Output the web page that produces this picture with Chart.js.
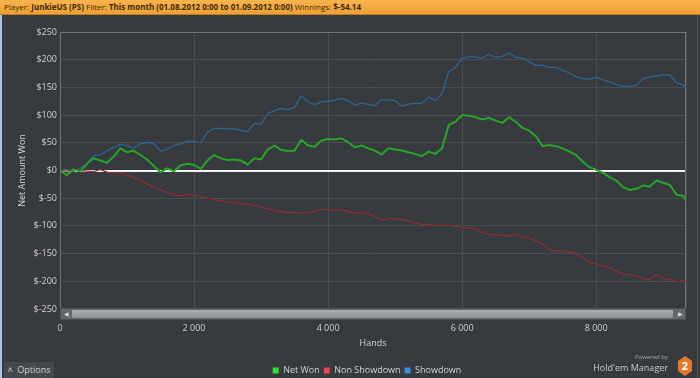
<!DOCTYPE html>
<html>
<head>
<meta charset="utf-8">
<script src="https://cdn.jsdelivr.net/npm/chart.js@4/dist/chart.umd.min.js"></script>
<style>
  html, body { margin: 0; padding: 0; background: #373a3e; }
  #wrap { position: relative; width: 700px; height: 378px; overflow: hidden; background: #373a3e; font-family: "Open Sans", sans-serif; }
  #chart { position: absolute; left: 0; top: 0; }
  #header { position: absolute; left: 0; top: 0; width: 700px; height: 14px; background: linear-gradient(#f8b44e, #eea033); border-bottom: 1px solid #b97a22; font-size: 8px; line-height: 14px; color: #3b2a10; white-space: nowrap; }
  #header span { margin-left: 4px; }
  #header b { font-weight: 700; }
  #leftedge { position: absolute; left: 0; top: 15px; width: 2px; height: 363px; background: #a8c4e2; }
  #rightedge { position: absolute; left: 697px; top: 15px; width: 1px; height: 363px; background: #55585c; }
  #scroll { position: absolute; left: 60px; top: 308px; width: 624px; height: 10px; background: #65686b; border: 1px solid #4e5154; }
  #thumb { position: absolute; left: 11px; top: 1px; width: 601px; height: 8px; background: linear-gradient(#b0b3b6, #8c8f92); border-radius: 1px; }
  .arrow { position: absolute; top: 0; font-size: 6px; line-height: 10px; color: #d8d8d8; }
  #options { position: absolute; left: 4px; top: 362px; width: 50px; height: 16px; background: #45484c; color: #cfcfcf; font-size: 9px; line-height: 16px; text-align: center; }
  #powered { position: absolute; right: 32px; top: 353px; font-size: 6px; color: #a8a8a8; }
  #hem { position: absolute; right: 32px; top: 361px; font-size: 9px; color: #c8c8c8; }
  #hex { position: absolute; left: 678px; top: 356px; width: 14px; height: 20px; background: #e4792b; clip-path: polygon(50% 0, 100% 25%, 100% 75%, 50% 100%, 0 75%, 0 25%); color: #fff; font-weight: 700; font-size: 11px; line-height: 20px; text-align: center; }
</style>
</head>
<body>
<div id="wrap">
  <canvas id="chart" width="700" height="378"></canvas>
  <div id="header"><span>Player: <b>JunkieUS (PS)</b> Filter: <b>This month (01.08.2012 0:00 to 01.09.2012 0:00)</b> Winnings: <b>$-54.14</b></span></div>
  <div id="leftedge"></div>
  <div id="rightedge"></div>
  <div id="scroll"><span class="arrow" style="left:3px">&#9664;</span><div id="thumb"></div><span class="arrow" style="right:2px">&#9654;</span></div>
  <div id="options">&#708;&nbsp; Options</div>
  <div id="powered">Powered by</div>
  <div id="hem">Hold'em Manager</div>
  <div id="hex">2</div>
</div>
<script>
// hands played (x axis)
const hands = [
  0, 100, 200, 300, 400, 500, 600, 700, 800, 900,
  1000, 1100, 1200, 1300, 1400, 1500, 1600, 1700, 1800, 1900,
  2000, 2100, 2200, 2300, 2400, 2500, 2600, 2700, 2800, 2900,
  3000, 3100, 3200, 3300, 3400, 3500, 3600, 3700, 3800, 3900,
  4000, 4100, 4200, 4300, 4400, 4500, 4600, 4700, 4800, 4900,
  5000, 5100, 5200, 5300, 5400, 5500, 5600, 5700, 5800, 5900,
  6000, 6100, 6200, 6300, 6400, 6500, 6600, 6700, 6800, 6900,
  7000, 7100, 7200, 7300, 7400, 7500, 7600, 7700, 7800, 7900,
  8000, 8100, 8200, 8300, 8400, 8500, 8600, 8700, 8800, 8900,
  9000, 9100, 9200, 9300, 9340
];

const netWon = [
  0, -8, 2, -2, 12, 22, 18, 14, 25, 40,
  33, 36, 28, 20, 8, -3, 4, -1, 9, 12,
  10, 3, 18, 28, 22, 19, 20, 18, 11, 22,
  20, 38, 45, 37, 35, 36, 55, 45, 43, 54,
  57, 56, 58, 51, 42, 45, 40, 36, 29, 40,
  38, 36, 33, 30, 26, 34, 30, 40, 82, 88,
  100, 99, 96, 92, 95, 90, 86, 96, 88, 77,
  72, 62, 44, 46, 44, 40, 34, 28, 16, 6,
  1, -4, -12, -18, -30, -35, -33, -27, -29, -18,
  -22, -26, -44, -46, -54
];

const nonShowdown = [
  0, -1, 1, 0, -1, -2, 2, -3, -5, -4,
  -8, -13, -18, -24, -30, -35, -40, -44, -46, -43,
  -44, -47, -50, -52, -55, -57, -58, -60, -61, -63,
  -66, -69, -72, -74, -76, -76, -77, -76, -73, -70,
  -70, -72, -71, -74, -77, -76, -78, -83, -90, -87,
  -87, -88, -91, -95, -97, -98, -99, -99, -99, -101,
  -103, -103, -106, -112, -115, -116, -117, -118, -115, -120,
  -122, -127, -133, -143, -145, -145, -147, -150, -157, -166,
  -168, -172, -175, -182, -186, -188, -190, -196, -197, -188,
  -195, -196, -201, -199, -200
];

const showdown = [
  0, 2, -2, 4, 12, 27, 28, 35, 42, 47,
  45, 40, 48, 51, 48, 35, 38, 45, 48, 53,
  52, 50, 69, 76, 76, 75, 75, 73, 70, 85,
  84, 103, 108, 112, 110, 114, 135, 124, 119, 124,
  125, 127, 130, 126, 118, 122, 119, 117, 128, 127,
  126, 116, 120, 121, 121, 132, 127, 138, 178, 186,
  203, 205, 205, 203, 210, 204, 206, 212, 204, 203,
  196, 190, 190, 186, 186, 181, 176, 169, 166, 165,
  168, 164, 160, 155, 152, 152, 154, 166, 169, 171,
  173, 172, 158, 154, 149
];

const seriesNames = ['Net Won', 'Non Showdown', 'Showdown'];
const lineColors = ['#27a527', '#8a2f2f', '#2f6592'];
const legendColors = ['#2fe02f', '#e8454f', '#3b8fd8'];

const xTicks = [0, 2000, 4000, 6000, 8000];
const xMax = 9340;
const yTicks = [250, 200, 150, 100, 50, 0, -50, -100, -150, -200, -250];

function pts(vals) {
  return vals.map((v, i) => ({ x: hands[i], y: v }));
}

function fmtHands(v) {
  if (v < 1000) return String(v);
  return Math.floor(v / 1000) + ' ' + String(v % 1000).padStart(3, '0');
}

// light frame round the plot area
const chartBorder = {
  id: 'chartBorder',
  beforeDatasetsDraw(chart) {
    const a = chart.chartArea;
    const ctx = chart.ctx;
    ctx.save();
    ctx.strokeStyle = '#707376';
    ctx.lineWidth = 1;
    ctx.strokeRect(a.left + 0.5, a.top + 0.5, a.right - a.left - 1, a.bottom - a.top);
    ctx.restore();
  }
};

// legend sits a bit right of centre in the original
const legendShift = {
  id: 'legendShift',
  afterLayout(chart) {
    chart.legend.left += 24;
    chart.legend.right += 24;
  }
};

const font = { family: '"Open Sans", sans-serif', size: 9 };

new Chart(document.getElementById('chart'), {
  type: 'line',
  data: {
    datasets: [netWon, nonShowdown, showdown].map((vals, i) => ({
      label: seriesNames[i],
      data: pts(vals),
      borderColor: lineColors[i],
      backgroundColor: legendColors[i],
      borderWidth: i === 0 ? 2 : 1.3,
      pointRadius: 0,
      tension: 0,
      fill: false
    }))
  },
  options: {
    responsive: false,
    animation: false,
    layout: { padding: { top: 32, right: 14, left: 0, bottom: -7 } },
    plugins: {
      tooltip: { enabled: false },
      legend: {
        position: 'bottom',
        labels: {
          color: '#d0d0d0',
          font: font,
          boxWidth: 6,
          boxHeight: 6,
          padding: 4,
          generateLabels(chart) {
            return chart.data.datasets.map((ds, i) => ({
              text: ds.label,
              fillStyle: legendColors[i],
              strokeStyle: legendColors[i],
              lineWidth: 0,
              fontColor: '#d0d0d0',
              datasetIndex: i
            }));
          }
        }
      }
    },
    scales: {
      x: {
        type: 'linear',
        min: 0,
        max: xMax,
        afterFit(scale) { scale.height = 53; },
        afterBuildTicks(scale) { scale.ticks = xTicks.concat([xMax]).map(v => ({ value: v })); },
        ticks: {
          color: '#cfcfcf',
          font: font,
          padding: 14,
          maxRotation: 0,
          autoSkip: false,
          callback: v => (xTicks.includes(v) ? fmtHands(v) : '')
        },
        grid: { color: '#4a4e52', drawTicks: false },
        border: { display: false },
        title: { display: true, text: 'Hands', color: '#d4d4d4', font: font, padding: { top: 0, bottom: 13 } }
      },
      y: {
        min: -250,
        max: 250,
        afterFit(scale) { scale.width = 60; },
        afterBuildTicks(scale) { scale.ticks = yTicks.map(v => ({ value: v })); },
        ticks: {
          color: '#cfcfcf',
          font: font,
          padding: 3,
          callback: v => '$' + v
        },
        grid: {
          drawTicks: false,
          color: ctx => (ctx.tick && ctx.tick.value === 0 ? '#f2f2f2' : '#4a4e52'),
          lineWidth: ctx => (ctx.tick && ctx.tick.value === 0 ? 2 : 1)
        },
        border: { color: '#8e9194' },
        title: { display: true, text: 'Net Amount Won', color: '#d4d4d4', font: font, padding: { top: 17, bottom: 0 } }
      }
    }
  },
  plugins: [chartBorder, legendShift]
});
</script>
</body>
</html>
